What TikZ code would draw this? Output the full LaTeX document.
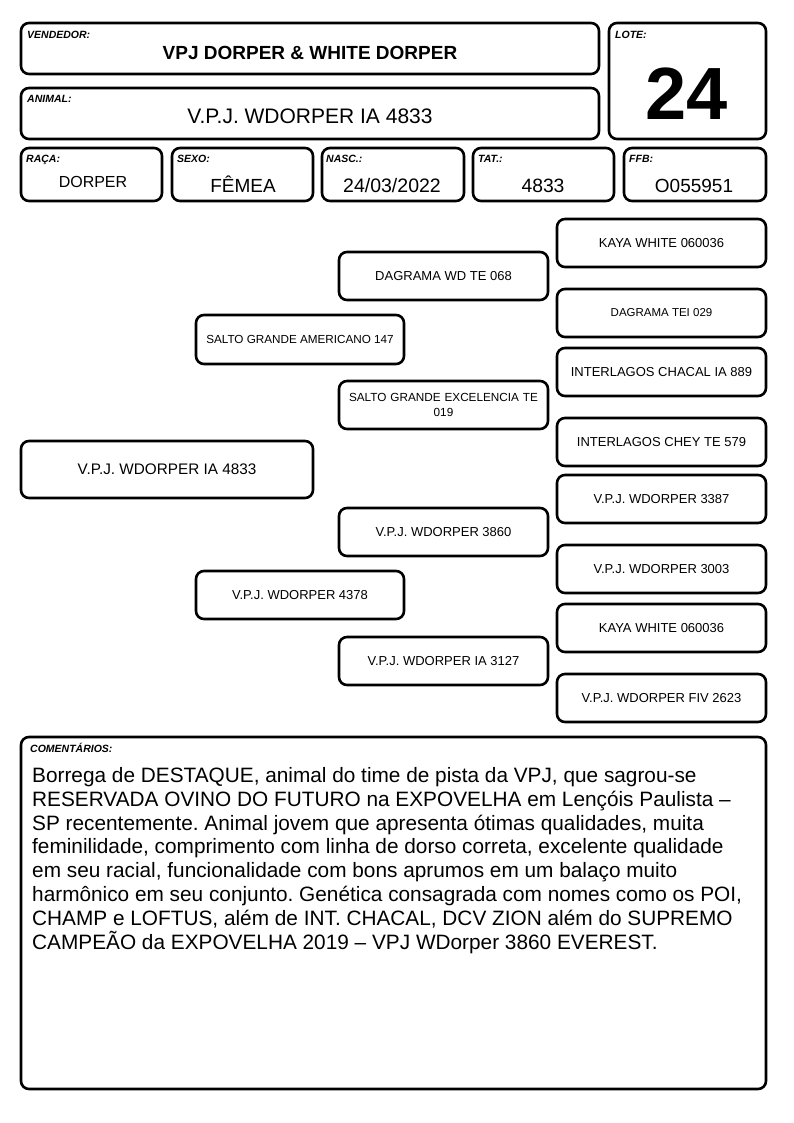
\documentclass[tikz,border=0pt]{standalone}
\usepackage{fontspec}
\setmainfont{Liberation Sans}
\frenchspacing
\newcommand\fsz[2]{\fontsize{#1}{#2}\selectfont}
\tikzset{
  box/.style={draw, line width=2.6pt, rounded corners=8pt, inner sep=0pt, fill=white},
  lbl/.style={font=\fsz{10.5pt}{12pt}\bfseries\itshape, anchor=base west, inner sep=0pt},
  val/.style={anchor=base, inner sep=0pt},
  ped/.style={box, minimum width=209pt, minimum height=48pt, font=\fsz{13pt}{15pt}, align=center},
}
\begin{document}
\begin{tikzpicture}[x=1pt,y=-1pt]
\useasboundingbox (0,0) rectangle (794,1123);
% header boxes
\node[box, minimum width=578pt, minimum height=51pt] (vend) at (310,48.5) {};
\node[box, minimum width=157pt, minimum height=116pt] (lote) at (687.5,81) {};
\node[box, minimum width=578pt, minimum height=51pt] (anim) at (310,113.5) {};
\node[box, minimum width=141pt, minimum height=53pt] (raca) at (91.5,174.5) {};
\node[box, minimum width=141pt, minimum height=53pt] (sexo) at (242.5,174.5) {};
\node[box, minimum width=142pt, minimum height=53pt] (nasc) at (393,174.5) {};
\node[box, minimum width=141pt, minimum height=53pt] (tat) at (543.5,174.5) {};
\node[box, minimum width=142pt, minimum height=53pt] (ffb) at (695,174.5) {};
% labels
\node[lbl] (lvend) at (27,39) {VENDEDOR:};
\node[lbl] (lanim) at (27,103) {ANIMAL:};
\node[lbl] (llote) at (615,39) {LOTE:};
\node[lbl] (lraca) at (26,163) {RAÇA:};
\node[lbl] (lsexo) at (177,163) {SEXO:};
\node[lbl] (lnasc) at (326,163) {NASC.:};
\node[lbl] (ltat) at (478,163) {TAT.:};
\node[lbl] (lffb) at (629,163) {FFB:};
% values
\node[val, font=\fsz{19pt}{22pt}\bfseries] (tvend) at (310,60) {VPJ DORPER \& WHITE DORPER};
\node[val, font=\fsz{21pt}{24pt}] (tanim) at (310,123.5) {V.P.J. WDORPER IA 4833};
\node[val, font=\fsz{74pt}{80pt}\bfseries] (tlote) at (687,120) {24};
\node[val, font=\fsz{16pt}{19pt}] (traca) at (93,188) {DORPER};
\node[val, font=\fsz{19pt}{22pt}] (tsexo) at (243,193) {FÊMEA};
\node[val, font=\fsz{19.5pt}{22pt}] (tnasc) at (392,193) {24/03/2022};
\node[val, font=\fsz{19.3pt}{22pt}] (ttat) at (543,193) {4833};
\node[val, font=\fsz{19pt}{22pt}] (tffb) at (694,193) {O055951};
% pedigree
\node[box, minimum width=292pt, minimum height=57pt, font=\fsz{15.3pt}{18pt}] (p1) at (167,469.5) {V.P.J. WDORPER IA 4833};
\node[ped, minimum width=208pt, minimum height=49pt, font=\fsz{11.7pt}{14pt}] (p2a) at (300,339.5) {SALTO GRANDE AMERICANO 147};
\node[ped, minimum width=208pt] (p2b) at (300,595) {V.P.J. WDORPER 4378};
\node[ped] (p3a) at (443.5,276) {DAGRAMA WD TE 068};
\node[ped, font=\fsz{11.75pt}{15pt}, text width=200pt] (p3b) at (443.5,405) {SALTO GRANDE EXCELENCIA TE\\019};
\node[ped] (p3c) at (443.5,532) {V.P.J. WDORPER 3860};
\node[ped] (p3d) at (443.5,661) {V.P.J. WDORPER IA 3127};
\node[ped] (p4a) at (661.5,243) {KAYA WHITE 060036};
\node[ped, font=\fsz{11.5pt}{14pt}] (p4b) at (661.5,313) {DAGRAMA TEI 029};
\node[ped] (p4c) at (661.5,372) {INTERLAGOS CHACAL IA 889};
\node[ped] (p4d) at (661.5,442) {INTERLAGOS CHEY TE 579};
\node[ped] (p4e) at (661.5,499) {V.P.J. WDORPER 3387};
\node[ped] (p4f) at (661.5,569) {V.P.J. WDORPER 3003};
\node[ped] (p4g) at (661.5,628) {KAYA WHITE 060036};
\node[ped] (p4h) at (661.5,698) {V.P.J. WDORPER FIV 2623};
% comments
\node[box, minimum width=745pt, minimum height=352pt] (com) at (393.5,913) {};
\node[lbl] (lcom) at (30,752) {COMENTÁRIOS:};
\node[anchor=north west, inner sep=0pt, align=left, font=\fsz{20.8pt}{23.9pt}] (tcom) at (32,767) {Borrega de DESTAQUE, animal do time de pista da VPJ, que sagrou-se\\
RESERVADA OVINO DO FUTURO na EXPOVELHA em Lençóis Paulista –\\
SP recentemente. Animal jovem que apresenta ótimas qualidades, muita\\
feminilidade, comprimento com linha de dorso correta, excelente qualidade\\
em seu racial, funcionalidade com bons aprumos em um balaço muito\\
harmônico em seu conjunto. Genética consagrada com nomes como os POI,\\
CHAMP e LOFTUS, além de INT. CHACAL, DCV ZION além do SUPREMO\\
CAMPEÃO da EXPOVELHA 2019 – VPJ WDorper 3860 EVEREST.};
\end{tikzpicture}
\end{document}
